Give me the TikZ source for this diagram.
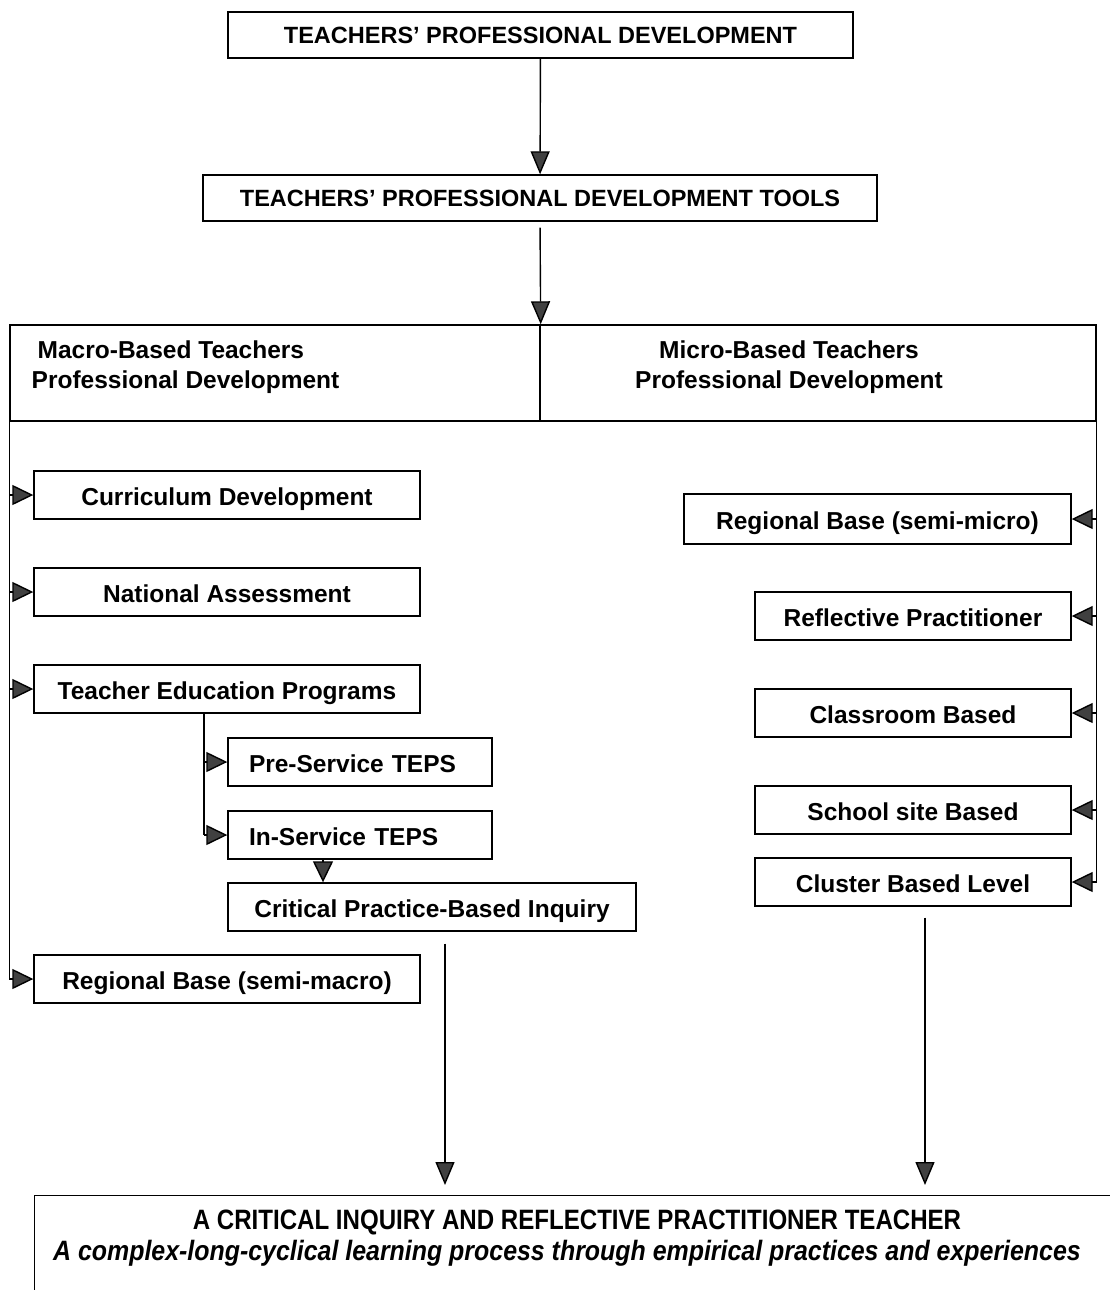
\documentclass[tikz,border=0pt]{standalone}
\usepackage{fontspec}
\setmainfont{Liberation Sans}
\newfontfamily\narrowfont[FakeStretch=0.86]{Liberation Sans}
\newfontfamily\narrowitfont[FakeStretch=0.89]{Liberation Sans}
\usetikzlibrary{arrows.meta}

\begin{document}
\begin{tikzpicture}[x=1pt, y=-1pt, line width=1.4pt,
	box/.style={draw, inner sep=0pt, minimum height=48pt, text height=23pt, text depth=2pt, font=\bfseries\fontsize{24.5}{28}\selectfont},
	titlebox/.style={draw, inner sep=0pt, minimum height=46pt, font=\bfseries\fontsize{23.5}{28}\selectfont},
	hdrbox/.style={draw, inner sep=0pt, minimum height=96pt},
	hdrtxt/.style={inner sep=0pt, font=\bfseries\fontsize{24.5}{30}\selectfont},
	tip/.style={-{Triangle[width=20pt,length=21pt,fill=black!75]}},
	bigtip/.style={-{Triangle[width=19pt,length=23pt,fill=black!75]}}]
	\useasboundingbox (0,0) rectangle (1110,1290);

	% titles
	\node[titlebox, minimum width=625pt] (tpd)   at (540.5,35) {TEACHERS’ PROFESSIONAL DEVELOPMENT};
	\node[titlebox, minimum width=674pt] (tools) at (540,198)  {TEACHERS’ PROFESSIONAL DEVELOPMENT TOOLS};

	% macro / micro header
	\node[hdrbox, minimum width=530pt] (macro) at (275,373) {};
	\node[hdrbox, minimum width=556pt] (micro) at (818,373) {};
	\node[hdrtxt, align=left, anchor=west] (macrotxt) at (31,367) {\hspace*{6pt}Macro-Based Teachers\\Professional Development};
	\node[hdrtxt, align=center] (microtxt) at (789,367) {Micro-Based Teachers\\Professional Development};

	% macro side
	\node[box, minimum width=386pt] (curr)   at (227,495) {Curriculum Development};
	\node[box, minimum width=386pt] (natl)   at (227,592) {National Assessment};
	\node[box, minimum width=386pt] (tep)    at (227,689) {Teacher Education Programs};
	\node[box, minimum width=264pt, text width=222pt, align=left] (pre) at (360,762) {Pre-Service TEPS};
	\node[box, minimum width=264pt, text width=222pt, align=left] (ins) at (360,835) {In-Service TEPS};
	\node[box, minimum width=408pt] (cpbi)   at (432,907) {Critical Practice-Based Inquiry};
	\node[box, minimum width=386pt] (regmac) at (227,979) {Regional Base (semi-macro)};

	% micro side
	\node[box, minimum width=387pt, minimum height=50pt] (regmic) at (877.5,519) {Regional Base (semi-micro)};
	\node[box, minimum width=316pt] (refl)   at (913,616) {Reflective Practitioner};
	\node[box, minimum width=316pt] (class)  at (913,713) {Classroom Based};
	\node[box, minimum width=316pt] (school) at (913,810) {School site Based};
	\node[box, minimum width=316pt] (clus)   at (913,882) {Cluster Based Level};

	% outcome
	\node[draw, anchor=north west, inner sep=0pt, minimum width=1100pt, minimum height=120pt] (crit) at (34,1195) {};
	\node[inner sep=0pt, font=\narrowfont\bfseries\fontsize{28}{31}\selectfont] (crittitle) at (577,1222)
		{A CRITICAL INQUIRY AND REFLECTIVE PRACTITIONER TEACHER};
	\node[inner sep=0pt, font=\narrowitfont\bfseries\itshape\fontsize{28}{31}\selectfont] (critsub) at (567,1253)
		{A complex-long-cyclical learning process through empirical practices and experiences};

	% connectors
	\draw[bigtip] (tpd) -- (tools);
	\draw[bigtip, shorten <=6pt] (tools.south) -- (macro.north east);

	\draw (macro.south west) -- (macro.south west |- regmac.west);
	\foreach \n in {curr,natl,tep,regmac}
		\draw[tip] (macro.south west |- \n.west) -- (\n.west);

	\coordinate (tepfoot) at ([xshift=-23pt]tep.south);
	\draw (tepfoot) -- (tepfoot |- ins.west);
	\foreach \n in {pre,ins}
		\draw[tip] (tepfoot |- \n.west) -- (\n.west);
	\draw[tip] ([xshift=-37pt]ins.south) -- ([xshift=-37pt]ins.south |- cpbi.north);

	\draw (micro.south east) -- (micro.south east |- clus.east);
	\foreach \n in {regmic,refl,class,school,clus}
		\draw[tip] (micro.south east |- \n.east) -- (\n.east);

	\draw[bigtip, shorten <=12pt, shorten >=10pt] ([xshift=13pt]cpbi.south) -- ([xshift=13pt]cpbi.south |- crit.north);
	\draw[bigtip, shorten <=11pt, shorten >=10pt] ([xshift=12pt]clus.south) -- ([xshift=12pt]clus.south |- crit.north);
\end{tikzpicture}
\end{document}
